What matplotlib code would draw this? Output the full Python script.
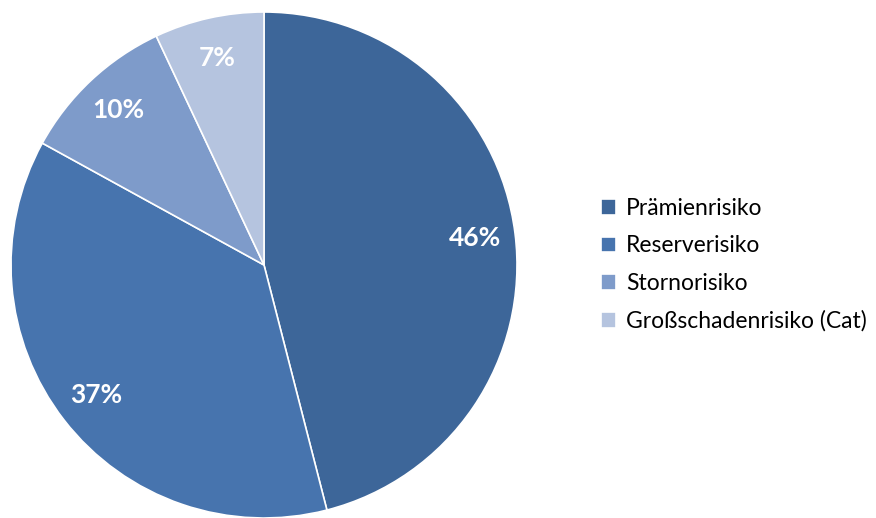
import matplotlib
matplotlib.use("Agg")
from matplotlib import pyplot as plt

labels = ['Prämienrisiko', 'Reserverisiko', 'Stornorisiko', 'Großschadenrisiko (Cat)']
values = [46, 37, 10, 7]
colors = ['#3d6699', '#4774ae', '#7e9bca', '#b5c4df']

plt.rcParams['font.family'] = ['Lato', 'DejaVu Sans']

fig = plt.figure(figsize=(8.76, 5.18), dpi=100)
ax = fig.add_axes([11 / 876, 0 / 518, 506 / 876, 506 / 518])

wedges, texts, autotexts = ax.pie(
    values, colors=colors, startangle=90, counterclock=False,
    autopct='%1.0f%%', pctdistance=0.84,
    wedgeprops=dict(edgecolor='white', linewidth=1.2),
    textprops=dict(color='white', fontsize=19, fontweight='bold'))
ax.set_xlim(-1, 1)
ax.set_ylim(-1, 1)
ax.set_aspect('equal')

fig.legend(wedges, labels, loc='center left', bbox_to_anchor=(580 / 876, 253 / 518),
           frameon=False, fontsize=16.5, handlelength=0.65, handleheight=0.65,
           handletextpad=0.45, labelspacing=0.72)

fig.savefig('out.png', dpi=100)
